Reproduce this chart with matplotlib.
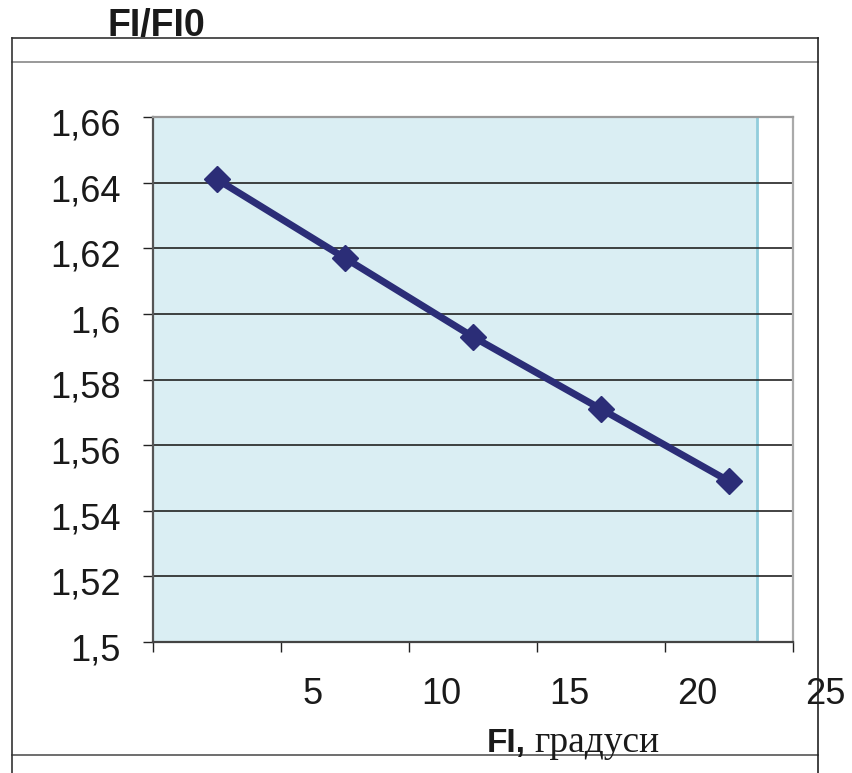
import matplotlib.pyplot as plt
from matplotlib.lines import Line2D
from matplotlib.transforms import ScaledTranslation

# data
fi = [2.5, 7.5, 12.5, 17.5, 22.5]
ratio = [1.641, 1.617, 1.593, 1.571, 1.549]
y_ticks = [1.5, 1.52, 1.54, 1.56, 1.58, 1.6, 1.62, 1.64, 1.66]
y_labels = ["1,5", "1,52", "1,54", "1,56", "1,58", "1,6", "1,62", "1,64", "1,66"]
x_ticks = [0, 5, 10, 15, 20, 25]
x_labels = ["5", "10", "15", "20", "25"]

W, H = 852, 773
plt.rcParams['font.family'] = ['Liberation Sans', 'DejaVu Sans']

fig = plt.figure(figsize=(W / 100, H / 100), dpi=100)


def px(x0, y0, x1, y1):
    # pixel box -> figure fraction rect
    return [x0 / W, 1 - y1 / H, (x1 - x0) / W, (y1 - y0) / H]


ax = fig.add_axes(px(153, 117, 793, 642))
ax.set_xlim(0, 25)
ax.set_ylim(1.5, 1.66)

# plot area fill (does not reach the right edge)
ax.axvspan(0, 23.6, color="#DAEEF3", zorder=0)
ax.axvline(23.6, color="#92CDDC", lw=2, zorder=1)

for v in y_ticks[1:-1]:
    ax.axhline(v, color="#222222", lw=1.2, zorder=2)

ax.plot(fi, ratio, color="#2B2D77", lw=5, marker="D", ms=13.5, zorder=3)

ax.set_yticks(y_ticks)
ax.set_yticklabels(y_labels, fontsize=26, color="#1a1a1a")
ax.tick_params(axis="y", length=7, width=1, color="#222222", pad=16)
# labels sit a little below their ticks
shift = ScaledTranslation(0, -5 / 100, fig.dpi_scale_trans)
for lab in ax.get_yticklabels():
    lab.set_transform(lab.get_transform() + shift)
ax.set_xticks(x_ticks)
ax.set_xticklabels([])
ax.tick_params(axis="x", length=7, width=1, color="#222222")

# x labels sit shifted right of their ticks
for t, lab in zip(x_ticks[1:], x_labels):
    ax.text(t + 1.25, -0.1, lab, transform=ax.get_xaxis_transform(),
            ha="center", va="center", fontsize=26, color="#1a1a1a", clip_on=False)

ax.spines["left"].set_color("#555555")
ax.spines["left"].set_linewidth(1.6)
ax.spines["bottom"].set_color("#444444")
ax.spines["bottom"].set_linewidth(1.6)
ax.spines["top"].set_color("#999999")
ax.spines["top"].set_linewidth(1.6)
ax.spines["right"].set_color("#AAAAAA")
ax.spines["right"].set_linewidth(1.6)

# outer frame lines
def hline(y, x0, x1, c):
    fig.add_artist(Line2D([x0 / W, x1 / W], [1 - y / H, 1 - y / H], color=c, lw=1.2))


def vline(x, y0, y1, c):
    fig.add_artist(Line2D([x / W, x / W], [1 - y0 / H, 1 - y1 / H], color=c, lw=1.2))


hline(38, 12, 818, "#333333")
hline(62, 12, 818, "#888888")
hline(755, 12, 818, "#555555")
vline(12, 38, 773, "#333333")
vline(818, 38, 773, "#222222")

fig.text(156 / W, 1 - 26 / H, "FI/FI0", ha="center", va="center",
         fontsize=27, fontweight="bold", color="#1a1a1a")
fig.text(487 / W, 1 - 752 / H, "FI,", ha="left", va="baseline",
         fontsize=24, fontweight="bold", color="#1a1a1a")
fig.text(534 / W, 1 - 752 / H, "градуси", ha="left", va="baseline",
         fontsize=27, family="Liberation Serif", color="#1a1a1a")

fig.savefig("out.png", dpi=100)
